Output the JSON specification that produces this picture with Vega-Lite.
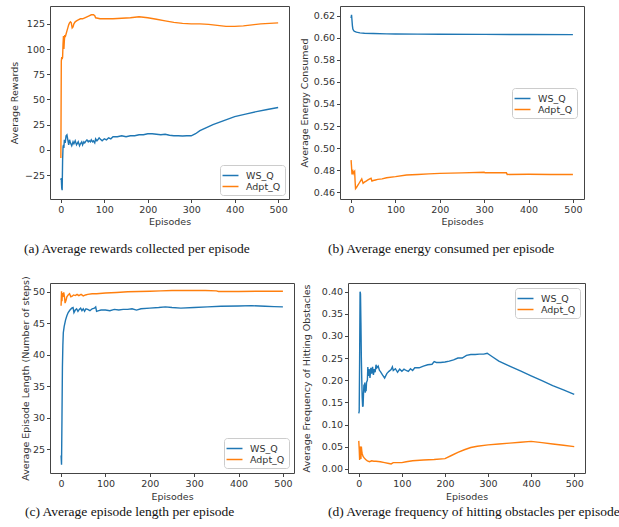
{
  "$schema": "https://vega.github.io/schema/vega-lite/v6.json",
  "padding": {"left": 8, "top": 5, "right": 0, "bottom": 0},
  "background": "white",
  "datasets": {
    "rewards": [
      {"Episode":0,"Value":-30,"Series":"WS_Q"},{"Episode":1,"Value":-28,"Series":"WS_Q"},{"Episode":2,"Value":-38,"Series":"WS_Q"},{"Episode":3,"Value":-40,"Series":"WS_Q"},{"Episode":4,"Value":-10,"Series":"WS_Q"},{"Episode":5,"Value":3,"Series":"WS_Q"},{"Episode":6,"Value":5,"Series":"WS_Q"},{"Episode":7,"Value":2,"Series":"WS_Q"},{"Episode":8,"Value":10,"Series":"WS_Q"},{"Episode":10,"Value":7,"Series":"WS_Q"},{"Episode":12,"Value":14,"Series":"WS_Q"},{"Episode":14,"Value":15,"Series":"WS_Q"},{"Episode":16,"Value":10,"Series":"WS_Q"},{"Episode":18,"Value":5,"Series":"WS_Q"},{"Episode":20,"Value":10,"Series":"WS_Q"},{"Episode":22,"Value":7,"Series":"WS_Q"},{"Episode":25,"Value":4,"Series":"WS_Q"},{"Episode":28,"Value":8,"Series":"WS_Q"},{"Episode":30,"Value":6,"Series":"WS_Q"},{"Episode":33,"Value":9,"Series":"WS_Q"},{"Episode":36,"Value":5,"Series":"WS_Q"},{"Episode":40,"Value":8,"Series":"WS_Q"},{"Episode":43,"Value":4,"Series":"WS_Q"},{"Episode":45,"Value":6,"Series":"WS_Q"},{"Episode":48,"Value":8,"Series":"WS_Q"},{"Episode":50,"Value":5,"Series":"WS_Q"},{"Episode":53,"Value":8,"Series":"WS_Q"},{"Episode":55,"Value":7,"Series":"WS_Q"},{"Episode":58,"Value":9,"Series":"WS_Q"},{"Episode":60,"Value":10,"Series":"WS_Q"},{"Episode":63,"Value":8,"Series":"WS_Q"},{"Episode":65,"Value":9,"Series":"WS_Q"},{"Episode":68,"Value":8,"Series":"WS_Q"},{"Episode":70,"Value":10,"Series":"WS_Q"},{"Episode":73,"Value":8,"Series":"WS_Q"},{"Episode":75,"Value":9,"Series":"WS_Q"},{"Episode":78,"Value":7,"Series":"WS_Q"},{"Episode":80,"Value":11,"Series":"WS_Q"},{"Episode":83,"Value":9,"Series":"WS_Q"},{"Episode":85,"Value":10,"Series":"WS_Q"},{"Episode":88,"Value":12,"Series":"WS_Q"},{"Episode":90,"Value":11,"Series":"WS_Q"},{"Episode":95,"Value":9,"Series":"WS_Q"},{"Episode":100,"Value":11,"Series":"WS_Q"},{"Episode":105,"Value":10,"Series":"WS_Q"},{"Episode":110,"Value":12,"Series":"WS_Q"},{"Episode":115,"Value":11,"Series":"WS_Q"},{"Episode":120,"Value":13,"Series":"WS_Q"},{"Episode":130,"Value":13,"Series":"WS_Q"},{"Episode":140,"Value":14,"Series":"WS_Q"},{"Episode":150,"Value":13,"Series":"WS_Q"},{"Episode":160,"Value":14,"Series":"WS_Q"},{"Episode":170,"Value":14,"Series":"WS_Q"},{"Episode":180,"Value":15,"Series":"WS_Q"},{"Episode":190,"Value":15,"Series":"WS_Q"},{"Episode":200,"Value":16,"Series":"WS_Q"},{"Episode":210,"Value":16,"Series":"WS_Q"},{"Episode":220,"Value":15.5,"Series":"WS_Q"},{"Episode":230,"Value":15,"Series":"WS_Q"},{"Episode":240,"Value":15.5,"Series":"WS_Q"},{"Episode":250,"Value":14.5,"Series":"WS_Q"},{"Episode":260,"Value":14,"Series":"WS_Q"},{"Episode":270,"Value":14,"Series":"WS_Q"},{"Episode":280,"Value":13.8,"Series":"WS_Q"},{"Episode":290,"Value":14,"Series":"WS_Q"},{"Episode":300,"Value":14,"Series":"WS_Q"},{"Episode":310,"Value":16,"Series":"WS_Q"},{"Episode":320,"Value":19,"Series":"WS_Q"},{"Episode":335,"Value":22,"Series":"WS_Q"},{"Episode":350,"Value":25,"Series":"WS_Q"},{"Episode":375,"Value":29,"Series":"WS_Q"},{"Episode":400,"Value":33,"Series":"WS_Q"},{"Episode":425,"Value":35.5,"Series":"WS_Q"},{"Episode":450,"Value":38,"Series":"WS_Q"},{"Episode":475,"Value":40,"Series":"WS_Q"},{"Episode":500,"Value":42,"Series":"WS_Q"},
      {"Episode":0,"Value":-8,"Series":"Adpt_Q"},{"Episode":1,"Value":88,"Series":"Adpt_Q"},{"Episode":2,"Value":92,"Series":"Adpt_Q"},{"Episode":3,"Value":90,"Series":"Adpt_Q"},{"Episode":4,"Value":92,"Series":"Adpt_Q"},{"Episode":5,"Value":105,"Series":"Adpt_Q"},{"Episode":6,"Value":113,"Series":"Adpt_Q"},{"Episode":7,"Value":100,"Series":"Adpt_Q"},{"Episode":8,"Value":108,"Series":"Adpt_Q"},{"Episode":9,"Value":114,"Series":"Adpt_Q"},{"Episode":10,"Value":112,"Series":"Adpt_Q"},{"Episode":12,"Value":115,"Series":"Adpt_Q"},{"Episode":14,"Value":118,"Series":"Adpt_Q"},{"Episode":16,"Value":121,"Series":"Adpt_Q"},{"Episode":18,"Value":124,"Series":"Adpt_Q"},{"Episode":20,"Value":126,"Series":"Adpt_Q"},{"Episode":22,"Value":127,"Series":"Adpt_Q"},{"Episode":24,"Value":126,"Series":"Adpt_Q"},{"Episode":26,"Value":121,"Series":"Adpt_Q"},{"Episode":28,"Value":122,"Series":"Adpt_Q"},{"Episode":30,"Value":125,"Series":"Adpt_Q"},{"Episode":33,"Value":127,"Series":"Adpt_Q"},{"Episode":36,"Value":128,"Series":"Adpt_Q"},{"Episode":40,"Value":129,"Series":"Adpt_Q"},{"Episode":45,"Value":130,"Series":"Adpt_Q"},{"Episode":50,"Value":130,"Series":"Adpt_Q"},{"Episode":55,"Value":131,"Series":"Adpt_Q"},{"Episode":60,"Value":132,"Series":"Adpt_Q"},{"Episode":65,"Value":133,"Series":"Adpt_Q"},{"Episode":70,"Value":134,"Series":"Adpt_Q"},{"Episode":75,"Value":134,"Series":"Adpt_Q"},{"Episode":78,"Value":133,"Series":"Adpt_Q"},{"Episode":80,"Value":131,"Series":"Adpt_Q"},{"Episode":85,"Value":130.5,"Series":"Adpt_Q"},{"Episode":90,"Value":130,"Series":"Adpt_Q"},{"Episode":100,"Value":130,"Series":"Adpt_Q"},{"Episode":120,"Value":130,"Series":"Adpt_Q"},{"Episode":140,"Value":130.5,"Series":"Adpt_Q"},{"Episode":160,"Value":131,"Series":"Adpt_Q"},{"Episode":180,"Value":132,"Series":"Adpt_Q"},{"Episode":190,"Value":131.5,"Series":"Adpt_Q"},{"Episode":200,"Value":131,"Series":"Adpt_Q"},{"Episode":220,"Value":129.5,"Series":"Adpt_Q"},{"Episode":240,"Value":128,"Series":"Adpt_Q"},{"Episode":260,"Value":126.5,"Series":"Adpt_Q"},{"Episode":280,"Value":125.5,"Series":"Adpt_Q"},{"Episode":300,"Value":125,"Series":"Adpt_Q"},{"Episode":320,"Value":125,"Series":"Adpt_Q"},{"Episode":340,"Value":124.5,"Series":"Adpt_Q"},{"Episode":360,"Value":123.5,"Series":"Adpt_Q"},{"Episode":380,"Value":122.5,"Series":"Adpt_Q"},{"Episode":400,"Value":122.5,"Series":"Adpt_Q"},{"Episode":420,"Value":123,"Series":"Adpt_Q"},{"Episode":440,"Value":124,"Series":"Adpt_Q"},{"Episode":460,"Value":125,"Series":"Adpt_Q"},{"Episode":480,"Value":125.5,"Series":"Adpt_Q"},{"Episode":500,"Value":126,"Series":"Adpt_Q"}
    ],
    "energy": [
      {"Episode":0,"Value":0.618,"Series":"WS_Q"},{"Episode":1,"Value":0.621,"Series":"WS_Q"},{"Episode":2,"Value":0.616,"Series":"WS_Q"},{"Episode":3,"Value":0.611,"Series":"WS_Q"},{"Episode":4,"Value":0.608,"Series":"WS_Q"},{"Episode":6,"Value":0.6065,"Series":"WS_Q"},{"Episode":8,"Value":0.606,"Series":"WS_Q"},{"Episode":12,"Value":0.6052,"Series":"WS_Q"},{"Episode":20,"Value":0.6046,"Series":"WS_Q"},{"Episode":30,"Value":0.6042,"Series":"WS_Q"},{"Episode":50,"Value":0.604,"Series":"WS_Q"},{"Episode":80,"Value":0.6037,"Series":"WS_Q"},{"Episode":100,"Value":0.6036,"Series":"WS_Q"},{"Episode":150,"Value":0.6035,"Series":"WS_Q"},{"Episode":200,"Value":0.6034,"Series":"WS_Q"},{"Episode":300,"Value":0.6032,"Series":"WS_Q"},{"Episode":400,"Value":0.6031,"Series":"WS_Q"},{"Episode":500,"Value":0.603,"Series":"WS_Q"},
      {"Episode":0,"Value":0.489,"Series":"Adpt_Q"},{"Episode":1,"Value":0.483,"Series":"Adpt_Q"},{"Episode":2,"Value":0.476,"Series":"Adpt_Q"},{"Episode":3,"Value":0.478,"Series":"Adpt_Q"},{"Episode":4,"Value":0.479,"Series":"Adpt_Q"},{"Episode":5,"Value":0.477,"Series":"Adpt_Q"},{"Episode":6,"Value":0.478,"Series":"Adpt_Q"},{"Episode":8,"Value":0.479,"Series":"Adpt_Q"},{"Episode":9,"Value":0.47,"Series":"Adpt_Q"},{"Episode":10,"Value":0.463,"Series":"Adpt_Q"},{"Episode":12,"Value":0.464,"Series":"Adpt_Q"},{"Episode":15,"Value":0.466,"Series":"Adpt_Q"},{"Episode":18,"Value":0.468,"Series":"Adpt_Q"},{"Episode":21,"Value":0.47,"Series":"Adpt_Q"},{"Episode":24,"Value":0.472,"Series":"Adpt_Q"},{"Episode":27,"Value":0.468,"Series":"Adpt_Q"},{"Episode":30,"Value":0.469,"Series":"Adpt_Q"},{"Episode":34,"Value":0.47,"Series":"Adpt_Q"},{"Episode":38,"Value":0.471,"Series":"Adpt_Q"},{"Episode":42,"Value":0.472,"Series":"Adpt_Q"},{"Episode":45,"Value":0.4725,"Series":"Adpt_Q"},{"Episode":47,"Value":0.47,"Series":"Adpt_Q"},{"Episode":50,"Value":0.4705,"Series":"Adpt_Q"},{"Episode":55,"Value":0.471,"Series":"Adpt_Q"},{"Episode":60,"Value":0.4715,"Series":"Adpt_Q"},{"Episode":70,"Value":0.472,"Series":"Adpt_Q"},{"Episode":80,"Value":0.473,"Series":"Adpt_Q"},{"Episode":100,"Value":0.474,"Series":"Adpt_Q"},{"Episode":125,"Value":0.4755,"Series":"Adpt_Q"},{"Episode":150,"Value":0.476,"Series":"Adpt_Q"},{"Episode":175,"Value":0.4765,"Series":"Adpt_Q"},{"Episode":200,"Value":0.477,"Series":"Adpt_Q"},{"Episode":250,"Value":0.4774,"Series":"Adpt_Q"},{"Episode":300,"Value":0.478,"Series":"Adpt_Q"},{"Episode":302,"Value":0.4775,"Series":"Adpt_Q"},{"Episode":350,"Value":0.4775,"Series":"Adpt_Q"},{"Episode":352,"Value":0.476,"Series":"Adpt_Q"},{"Episode":400,"Value":0.4762,"Series":"Adpt_Q"},{"Episode":450,"Value":0.476,"Series":"Adpt_Q"},{"Episode":500,"Value":0.476,"Series":"Adpt_Q"}
    ],
    "length": [
      {"Episode":0,"Value":24,"Series":"WS_Q"},{"Episode":1,"Value":22.5,"Series":"WS_Q"},{"Episode":2,"Value":30,"Series":"WS_Q"},{"Episode":3,"Value":38,"Series":"WS_Q"},{"Episode":4,"Value":41.5,"Series":"WS_Q"},{"Episode":5,"Value":43.5,"Series":"WS_Q"},{"Episode":7,"Value":44.5,"Series":"WS_Q"},{"Episode":10,"Value":45.5,"Series":"WS_Q"},{"Episode":13,"Value":46.2,"Series":"WS_Q"},{"Episode":16,"Value":46.7,"Series":"WS_Q"},{"Episode":20,"Value":47.1,"Series":"WS_Q"},{"Episode":24,"Value":47.4,"Series":"WS_Q"},{"Episode":27,"Value":47.5,"Series":"WS_Q"},{"Episode":29,"Value":46.7,"Series":"WS_Q"},{"Episode":32,"Value":47.1,"Series":"WS_Q"},{"Episode":35,"Value":47.3,"Series":"WS_Q"},{"Episode":38,"Value":46.9,"Series":"WS_Q"},{"Episode":41,"Value":47.2,"Series":"WS_Q"},{"Episode":44,"Value":47.4,"Series":"WS_Q"},{"Episode":47,"Value":47,"Series":"WS_Q"},{"Episode":50,"Value":47.3,"Series":"WS_Q"},{"Episode":53,"Value":46.9,"Series":"WS_Q"},{"Episode":56,"Value":47.3,"Series":"WS_Q"},{"Episode":60,"Value":47.2,"Series":"WS_Q"},{"Episode":65,"Value":47,"Series":"WS_Q"},{"Episode":70,"Value":47.3,"Series":"WS_Q"},{"Episode":75,"Value":47.4,"Series":"WS_Q"},{"Episode":78,"Value":47.6,"Series":"WS_Q"},{"Episode":80,"Value":46.9,"Series":"WS_Q"},{"Episode":85,"Value":47,"Series":"WS_Q"},{"Episode":90,"Value":47.1,"Series":"WS_Q"},{"Episode":100,"Value":47.1,"Series":"WS_Q"},{"Episode":110,"Value":47,"Series":"WS_Q"},{"Episode":120,"Value":47.2,"Series":"WS_Q"},{"Episode":130,"Value":47.1,"Series":"WS_Q"},{"Episode":140,"Value":47.2,"Series":"WS_Q"},{"Episode":150,"Value":47.2,"Series":"WS_Q"},{"Episode":160,"Value":47.3,"Series":"WS_Q"},{"Episode":170,"Value":47.1,"Series":"WS_Q"},{"Episode":180,"Value":47.3,"Series":"WS_Q"},{"Episode":200,"Value":47.4,"Series":"WS_Q"},{"Episode":220,"Value":47.5,"Series":"WS_Q"},{"Episode":235,"Value":47.6,"Series":"WS_Q"},{"Episode":250,"Value":47.5,"Series":"WS_Q"},{"Episode":270,"Value":47.4,"Series":"WS_Q"},{"Episode":300,"Value":47.5,"Series":"WS_Q"},{"Episode":330,"Value":47.6,"Series":"WS_Q"},{"Episode":360,"Value":47.7,"Series":"WS_Q"},{"Episode":400,"Value":47.75,"Series":"WS_Q"},{"Episode":430,"Value":47.8,"Series":"WS_Q"},{"Episode":460,"Value":47.7,"Series":"WS_Q"},{"Episode":480,"Value":47.65,"Series":"WS_Q"},{"Episode":500,"Value":47.6,"Series":"WS_Q"},
      {"Episode":0,"Value":47.8,"Series":"Adpt_Q"},{"Episode":1,"Value":50.1,"Series":"Adpt_Q"},{"Episode":2,"Value":48.5,"Series":"Adpt_Q"},{"Episode":3,"Value":49.8,"Series":"Adpt_Q"},{"Episode":4,"Value":49.2,"Series":"Adpt_Q"},{"Episode":5,"Value":49.6,"Series":"Adpt_Q"},{"Episode":6,"Value":49.9,"Series":"Adpt_Q"},{"Episode":8,"Value":49,"Series":"Adpt_Q"},{"Episode":9,"Value":48.2,"Series":"Adpt_Q"},{"Episode":11,"Value":48.6,"Series":"Adpt_Q"},{"Episode":13,"Value":49.2,"Series":"Adpt_Q"},{"Episode":16,"Value":49.5,"Series":"Adpt_Q"},{"Episode":19,"Value":49.7,"Series":"Adpt_Q"},{"Episode":22,"Value":49.2,"Series":"Adpt_Q"},{"Episode":25,"Value":49.3,"Series":"Adpt_Q"},{"Episode":28,"Value":49.5,"Series":"Adpt_Q"},{"Episode":32,"Value":49.4,"Series":"Adpt_Q"},{"Episode":36,"Value":49.6,"Series":"Adpt_Q"},{"Episode":40,"Value":49.4,"Series":"Adpt_Q"},{"Episode":45,"Value":49.6,"Series":"Adpt_Q"},{"Episode":50,"Value":49.35,"Series":"Adpt_Q"},{"Episode":55,"Value":49.5,"Series":"Adpt_Q"},{"Episode":60,"Value":49.6,"Series":"Adpt_Q"},{"Episode":70,"Value":49.7,"Series":"Adpt_Q"},{"Episode":80,"Value":49.7,"Series":"Adpt_Q"},{"Episode":100,"Value":49.8,"Series":"Adpt_Q"},{"Episode":125,"Value":49.9,"Series":"Adpt_Q"},{"Episode":150,"Value":50,"Series":"Adpt_Q"},{"Episode":175,"Value":50.05,"Series":"Adpt_Q"},{"Episode":200,"Value":50.1,"Series":"Adpt_Q"},{"Episode":225,"Value":50.15,"Series":"Adpt_Q"},{"Episode":250,"Value":50.2,"Series":"Adpt_Q"},{"Episode":275,"Value":50.2,"Series":"Adpt_Q"},{"Episode":300,"Value":50.2,"Series":"Adpt_Q"},{"Episode":325,"Value":50.2,"Series":"Adpt_Q"},{"Episode":350,"Value":50.15,"Series":"Adpt_Q"},{"Episode":355,"Value":50.05,"Series":"Adpt_Q"},{"Episode":400,"Value":50.05,"Series":"Adpt_Q"},{"Episode":450,"Value":50.1,"Series":"Adpt_Q"},{"Episode":500,"Value":50.1,"Series":"Adpt_Q"}
    ],
    "hits": [
      {"Episode":0,"Value":0.125,"Series":"WS_Q"},{"Episode":1,"Value":0.13,"Series":"WS_Q"},{"Episode":2,"Value":0.25,"Series":"WS_Q"},{"Episode":3,"Value":0.4,"Series":"WS_Q"},{"Episode":4,"Value":0.395,"Series":"WS_Q"},{"Episode":5,"Value":0.33,"Series":"WS_Q"},{"Episode":6,"Value":0.25,"Series":"WS_Q"},{"Episode":7,"Value":0.2,"Series":"WS_Q"},{"Episode":8,"Value":0.16,"Series":"WS_Q"},{"Episode":9,"Value":0.14,"Series":"WS_Q"},{"Episode":10,"Value":0.142,"Series":"WS_Q"},{"Episode":11,"Value":0.17,"Series":"WS_Q"},{"Episode":12,"Value":0.19,"Series":"WS_Q"},{"Episode":13,"Value":0.175,"Series":"WS_Q"},{"Episode":14,"Value":0.195,"Series":"WS_Q"},{"Episode":15,"Value":0.172,"Series":"WS_Q"},{"Episode":16,"Value":0.19,"Series":"WS_Q"},{"Episode":17,"Value":0.175,"Series":"WS_Q"},{"Episode":18,"Value":0.195,"Series":"WS_Q"},{"Episode":20,"Value":0.2,"Series":"WS_Q"},{"Episode":21,"Value":0.23,"Series":"WS_Q"},{"Episode":22,"Value":0.21,"Series":"WS_Q"},{"Episode":24,"Value":0.225,"Series":"WS_Q"},{"Episode":26,"Value":0.205,"Series":"WS_Q"},{"Episode":28,"Value":0.228,"Series":"WS_Q"},{"Episode":30,"Value":0.215,"Series":"WS_Q"},{"Episode":32,"Value":0.23,"Series":"WS_Q"},{"Episode":34,"Value":0.212,"Series":"WS_Q"},{"Episode":36,"Value":0.225,"Series":"WS_Q"},{"Episode":38,"Value":0.218,"Series":"WS_Q"},{"Episode":40,"Value":0.235,"Series":"WS_Q"},{"Episode":42,"Value":0.228,"Series":"WS_Q"},{"Episode":45,"Value":0.232,"Series":"WS_Q"},{"Episode":48,"Value":0.222,"Series":"WS_Q"},{"Episode":50,"Value":0.22,"Series":"WS_Q"},{"Episode":55,"Value":0.212,"Series":"WS_Q"},{"Episode":60,"Value":0.205,"Series":"WS_Q"},{"Episode":65,"Value":0.215,"Series":"WS_Q"},{"Episode":70,"Value":0.22,"Series":"WS_Q"},{"Episode":75,"Value":0.224,"Series":"WS_Q"},{"Episode":78,"Value":0.23,"Series":"WS_Q"},{"Episode":80,"Value":0.222,"Series":"WS_Q"},{"Episode":85,"Value":0.226,"Series":"WS_Q"},{"Episode":90,"Value":0.218,"Series":"WS_Q"},{"Episode":95,"Value":0.225,"Series":"WS_Q"},{"Episode":100,"Value":0.22,"Series":"WS_Q"},{"Episode":105,"Value":0.225,"Series":"WS_Q"},{"Episode":110,"Value":0.222,"Series":"WS_Q"},{"Episode":115,"Value":0.22,"Series":"WS_Q"},{"Episode":120,"Value":0.226,"Series":"WS_Q"},{"Episode":125,"Value":0.222,"Series":"WS_Q"},{"Episode":130,"Value":0.228,"Series":"WS_Q"},{"Episode":140,"Value":0.228,"Series":"WS_Q"},{"Episode":150,"Value":0.232,"Series":"WS_Q"},{"Episode":160,"Value":0.235,"Series":"WS_Q"},{"Episode":170,"Value":0.236,"Series":"WS_Q"},{"Episode":175,"Value":0.242,"Series":"WS_Q"},{"Episode":180,"Value":0.24,"Series":"WS_Q"},{"Episode":190,"Value":0.24,"Series":"WS_Q"},{"Episode":200,"Value":0.241,"Series":"WS_Q"},{"Episode":210,"Value":0.243,"Series":"WS_Q"},{"Episode":220,"Value":0.246,"Series":"WS_Q"},{"Episode":230,"Value":0.25,"Series":"WS_Q"},{"Episode":240,"Value":0.25,"Series":"WS_Q"},{"Episode":250,"Value":0.256,"Series":"WS_Q"},{"Episode":260,"Value":0.258,"Series":"WS_Q"},{"Episode":270,"Value":0.258,"Series":"WS_Q"},{"Episode":280,"Value":0.259,"Series":"WS_Q"},{"Episode":290,"Value":0.259,"Series":"WS_Q"},{"Episode":298,"Value":0.261,"Series":"WS_Q"},{"Episode":310,"Value":0.253,"Series":"WS_Q"},{"Episode":325,"Value":0.243,"Series":"WS_Q"},{"Episode":350,"Value":0.232,"Series":"WS_Q"},{"Episode":375,"Value":0.221,"Series":"WS_Q"},{"Episode":400,"Value":0.21,"Series":"WS_Q"},{"Episode":425,"Value":0.199,"Series":"WS_Q"},{"Episode":450,"Value":0.188,"Series":"WS_Q"},{"Episode":475,"Value":0.178,"Series":"WS_Q"},{"Episode":500,"Value":0.168,"Series":"WS_Q"},
      {"Episode":0,"Value":0.063,"Series":"Adpt_Q"},{"Episode":1,"Value":0.045,"Series":"Adpt_Q"},{"Episode":2,"Value":0.02,"Series":"Adpt_Q"},{"Episode":3,"Value":0.05,"Series":"Adpt_Q"},{"Episode":4,"Value":0.048,"Series":"Adpt_Q"},{"Episode":5,"Value":0.022,"Series":"Adpt_Q"},{"Episode":6,"Value":0.05,"Series":"Adpt_Q"},{"Episode":7,"Value":0.04,"Series":"Adpt_Q"},{"Episode":8,"Value":0.034,"Series":"Adpt_Q"},{"Episode":10,"Value":0.028,"Series":"Adpt_Q"},{"Episode":13,"Value":0.024,"Series":"Adpt_Q"},{"Episode":16,"Value":0.021,"Series":"Adpt_Q"},{"Episode":20,"Value":0.018,"Series":"Adpt_Q"},{"Episode":25,"Value":0.016,"Series":"Adpt_Q"},{"Episode":30,"Value":0.018,"Series":"Adpt_Q"},{"Episode":35,"Value":0.017,"Series":"Adpt_Q"},{"Episode":40,"Value":0.017,"Series":"Adpt_Q"},{"Episode":50,"Value":0.016,"Series":"Adpt_Q"},{"Episode":60,"Value":0.014,"Series":"Adpt_Q"},{"Episode":70,"Value":0.012,"Series":"Adpt_Q"},{"Episode":75,"Value":0.011,"Series":"Adpt_Q"},{"Episode":80,"Value":0.014,"Series":"Adpt_Q"},{"Episode":90,"Value":0.014,"Series":"Adpt_Q"},{"Episode":100,"Value":0.014,"Series":"Adpt_Q"},{"Episode":110,"Value":0.016,"Series":"Adpt_Q"},{"Episode":125,"Value":0.018,"Series":"Adpt_Q"},{"Episode":150,"Value":0.02,"Series":"Adpt_Q"},{"Episode":175,"Value":0.021,"Series":"Adpt_Q"},{"Episode":200,"Value":0.023,"Series":"Adpt_Q"},{"Episode":215,"Value":0.03,"Series":"Adpt_Q"},{"Episode":230,"Value":0.037,"Series":"Adpt_Q"},{"Episode":245,"Value":0.043,"Series":"Adpt_Q"},{"Episode":260,"Value":0.048,"Series":"Adpt_Q"},{"Episode":275,"Value":0.051,"Series":"Adpt_Q"},{"Episode":300,"Value":0.054,"Series":"Adpt_Q"},{"Episode":325,"Value":0.056,"Series":"Adpt_Q"},{"Episode":350,"Value":0.058,"Series":"Adpt_Q"},{"Episode":375,"Value":0.06,"Series":"Adpt_Q"},{"Episode":400,"Value":0.062,"Series":"Adpt_Q"},{"Episode":425,"Value":0.059,"Series":"Adpt_Q"},{"Episode":450,"Value":0.056,"Series":"Adpt_Q"},{"Episode":475,"Value":0.053,"Series":"Adpt_Q"},{"Episode":500,"Value":0.05,"Series":"Adpt_Q"}
    ]
  },
  "bounds": "flush",
  "spacing": 277,
  "resolve": {"scale": {"x": "independent", "y": "independent", "color": "independent"}, "legend": {"color": "independent"}, "axis": {"x": "independent", "y": "independent"}},
  "vconcat": [
    {
      "bounds": "flush",
      "spacing": 51,
      "resolve": {"scale": {"x": "independent", "y": "independent", "color": "independent"}, "legend": {"color": "independent"}, "axis": {"x": "independent", "y": "independent"}},
      "hconcat": [
        {
          "width": 239, "height": 193,
          "data": {"name": "rewards"},
          "title": {"text": "(a) Average rewards collected per episode", "dx": -26, "offset": 16},
          "mark": {"type": "line", "strokeWidth": 1.4},
          "encoding": {
            "x": {"field": "Episode", "type": "quantitative", "scale": {"domain": [-25, 525], "nice": false, "zero": false}, "axis": {"values": [0, 100, 200, 300, 400, 500], "title": "Episodes", "titleY": 22}},
            "y": {"field": "Value", "type": "quantitative", "scale": {"domain": [-48.7, 142.7], "nice": false, "zero": false}, "axis": {"values": [-25, 0, 25, 50, 75, 100, 125], "format": "d", "title": "Average Rewards", "titleX": -36, "titleY": 96.5}},
            "color": {"field": "Series", "type": "nominal", "scale": {"domain": ["WS_Q", "Adpt_Q"], "range": ["#1f77b4", "#ff7f0e"]}, "legend": {"title": null, "orient": "bottom-right", "offset": 4}}
          }
        },
        {
          "width": 244, "height": 193,
          "data": {"name": "energy"},
          "title": {"text": "(b) Average energy consumed per episode", "dx": -12, "offset": 16},
          "mark": {"type": "line", "strokeWidth": 1.4},
          "encoding": {
            "x": {"field": "Episode", "type": "quantitative", "scale": {"domain": [-25, 525], "nice": false, "zero": false}, "axis": {"values": [0, 100, 200, 300, 400, 500], "title": "Episodes", "titleY": 22}},
            "y": {"field": "Value", "type": "quantitative", "scale": {"domain": [0.4537, 0.629], "nice": false, "zero": false}, "axis": {"values": [0.46, 0.48, 0.5, 0.52, 0.54, 0.56, 0.58, 0.6, 0.62], "format": ".2f", "title": "Average Energy Consumed", "titleX": -36, "titleY": 96.5}},
            "color": {"field": "Series", "type": "nominal", "scale": {"domain": ["WS_Q", "Adpt_Q"], "range": ["#1f77b4", "#ff7f0e"]}, "legend": {"title": null, "orient": "none", "legendX": 172, "legendY": 82}}
          }
        }
      ]
    },
    {
      "bounds": "flush",
      "spacing": 54,
      "resolve": {"scale": {"x": "independent", "y": "independent", "color": "independent"}, "legend": {"color": "independent"}, "axis": {"x": "independent", "y": "independent"}},
      "hconcat": [
        {
          "width": 244, "height": 190,
          "data": {"name": "length"},
          "title": {"text": "(c) Average episode length per episode", "dx": -25, "offset": 4},
          "mark": {"type": "line", "strokeWidth": 1.4},
          "encoding": {
            "x": {"field": "Episode", "type": "quantitative", "scale": {"domain": [-25, 525], "nice": false, "zero": false}, "axis": {"values": [0, 100, 200, 300, 400, 500], "title": "Episodes", "titleY": 23}},
            "y": {"field": "Value", "type": "quantitative", "scale": {"domain": [21.2, 51.4], "nice": false, "zero": false}, "axis": {"values": [25, 30, 35, 40, 45, 50], "format": "d", "title": "Average Episode Length (Number of steps)", "titleX": -25, "titleY": 95}},
            "color": {"field": "Series", "type": "nominal", "scale": {"domain": ["WS_Q", "Adpt_Q"], "range": ["#1f77b4", "#ff7f0e"]}, "legend": {"title": null, "orient": "bottom-right", "offset": 5}}
          }
        },
        {
          "width": 237, "height": 190,
          "data": {"name": "hits"},
          "title": {"text": "(d) Average frequency of hitting obstacles per episode", "dx": -20, "offset": 4},
          "mark": {"type": "line", "strokeWidth": 1.4},
          "encoding": {
            "x": {"field": "Episode", "type": "quantitative", "scale": {"domain": [-25, 525], "nice": false, "zero": false}, "axis": {"values": [0, 100, 200, 300, 400, 500], "title": "Episodes", "titleY": 23}},
            "y": {"field": "Value", "type": "quantitative", "scale": {"domain": [-0.0095, 0.4195], "nice": false, "zero": false}, "axis": {"values": [0, 0.05, 0.1, 0.15, 0.2, 0.25, 0.3, 0.35, 0.4], "format": ".2f", "title": "Average Frequency of Hitting Obstacles", "titleX": -42, "titleY": 95}},
            "color": {"field": "Series", "type": "nominal", "scale": {"domain": ["WS_Q", "Adpt_Q"], "range": ["#1f77b4", "#ff7f0e"]}, "legend": {"title": null, "orient": "top-right", "offset": 5}}
          }
        }
      ]
    }
  ],
  "config": {
    "view": {"stroke": "#444", "strokeWidth": 1},
    "axis": {"domain": false, "grid": false, "tickSize": 3.5, "tickColor": "#444", "labelFont": "DejaVu Sans", "labelFontSize": 9.5, "labelColor": "#333", "labelPadding": 2, "titleFont": "DejaVu Sans", "titleFontSize": 9.5, "titleFontWeight": "normal", "titleColor": "#333", "titleBaseline": "middle"},
    "legend": {"symbolType": "M-1.4,0H1.4", "symbolStrokeWidth": 1.5, "symbolSize": 130, "labelFont": "DejaVu Sans", "labelFontSize": 9.5, "labelColor": "#333", "padding": 4, "rowPadding": 0, "strokeColor": "#ccc", "fillColor": "white", "cornerRadius": 3, "labelOffset": 9},
    "title": {"font": "Liberation Serif", "fontSize": 13.5, "fontWeight": "normal", "color": "#111", "orient": "bottom", "anchor": "start", "frame": "group"}
  }
}
